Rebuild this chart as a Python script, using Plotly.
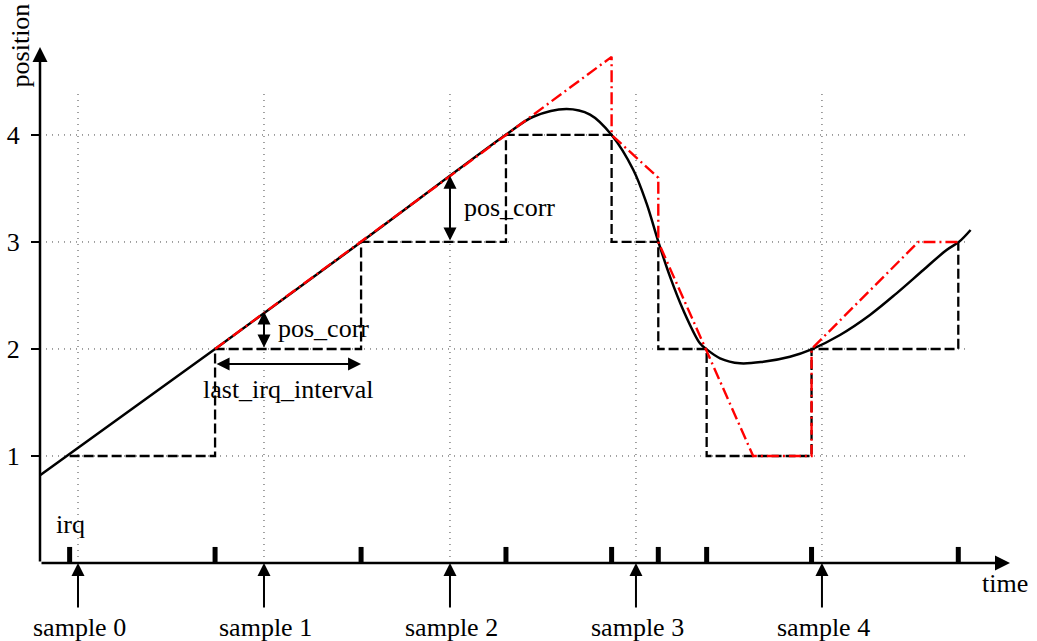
import plotly.graph_objects as go

# ---------------- data ----------------
sample_times = [0, 1, 2, 3, 4]
sample_labels = ["sample 0", "sample 1", "sample 2", "sample 3", "sample 4"]

irq_times = [-0.045, 0.737, 1.522, 2.301, 2.869, 3.120, 3.380, 3.944, 4.733]
irq_positions = [1, 2, 3, 4, 3, 2, 1, 2, 3]

true_t = [-0.204, 0.737, 1.522, 2.323, 2.448, 2.627, 2.753, 2.869, 2.986,
          3.057, 3.120, 3.183, 3.254, 3.344, 3.380, 3.452, 3.559, 3.685, 3.828,
          3.944, 4.097, 4.258, 4.401, 4.545, 4.670, 4.738, 4.799]
true_pos = [0.82, 2.0, 3.0, 4.03, 4.17, 4.243, 4.19, 4.0, 3.673,
            3.36, 3.003, 2.676, 2.364, 2.053, 1.997, 1.913, 1.866, 1.881, 1.928,
            1.997, 2.131, 2.318, 2.52, 2.738, 2.925, 3.003, 3.112]

extrap_t = [0.737, 1.522, 2.301, 2.869, 2.869, 3.120, 3.120, 3.63, 3.944, 3.944, 4.518, 4.733]
extrap_pos = [2.0, 3.0, 4.0, 4.73, 4.0, 3.60, 3.0, 1.0, 1.0, 2.0, 3.0, 3.0]

y_ticks = [1, 2, 3, 4]
pos_corr_at = [1, 2]            # sample indices where pos_corr is shown
pos_corr_values = [2.35, 3.62]  # curve value at those samples
pos_corr_base = [2, 3]

# ---------------- figure ----------------
FONT = "Liberation Serif"
FS = 26
x_min, x_max = -0.2043, 5.011
y_min, y_max = 0.0, 4.822
grid_x_end = 4.785
grid_y_top = 4.41


def px(t):   # data x -> paper x
    return (t - x_min) / (x_max - x_min)


def py(v):   # data y -> paper y
    return (v - y_min) / (y_max - y_min)


fig = go.Figure()

# dotted grid
gx, gy = [], []
for v in y_ticks:
    gx += [x_min, grid_x_end, None]
    gy += [v, v, None]
for t in sample_times:
    gx += [t, t, None]
    gy += [0, grid_y_top, None]
fig.add_trace(go.Scatter(x=gx, y=gy, mode="lines",
                         line=dict(color="#444444", width=1, dash="1px,5px"),
                         hoverinfo="skip", showlegend=False))

# irq ticks
ix, iy = [], []
for t in irq_times:
    ix += [t, t, None]
    iy += [0, 0.15, None]
fig.add_trace(go.Scatter(x=ix, y=iy, mode="lines",
                         line=dict(color="black", width=5),
                         hoverinfo="skip", showlegend=False))

# stepped sampled position
fig.add_trace(go.Scatter(x=irq_times, y=irq_positions, mode="lines",
                         line=dict(color="black", width=2.3, dash="10px,4px", shape="hv"),
                         hoverinfo="skip", showlegend=False))

# true position curve
fig.add_trace(go.Scatter(x=true_t, y=true_pos, mode="lines",
                         line=dict(color="black", width=2.5, shape="spline", smoothing=1.0),
                         hoverinfo="skip", showlegend=False))

# extrapolated position
fig.add_trace(go.Scatter(x=extrap_t, y=extrap_pos, mode="lines",
                         line=dict(color="#ff0000", width=2.4, dash="12px,4px,2px,4px"),
                         hoverinfo="skip", showlegend=False))

annotations = []
txt = dict(family=FONT, size=FS, color="black")
mid = dict(xanchor="center", yanchor="middle")

# axes with arrows
annotations.append(dict(x=x_min, y=y_max, ax=x_min, ay=0, xref="x", yref="y",
                        axref="x", ayref="y", showarrow=True, arrowhead=2,
                        arrowsize=1.2, arrowwidth=2.5, arrowcolor="black", text=""))
annotations.append(dict(x=x_max, y=0, ax=x_min, ay=0, xref="x", yref="y",
                        axref="x", ayref="y", showarrow=True, arrowhead=2,
                        arrowsize=1.2, arrowwidth=2.5, arrowcolor="black", text=""))

# sample arrows and labels (below the axis -> paper y coordinates)
for t, lab in zip(sample_times, sample_labels):
    annotations.append(dict(x=t, y=py(0), ax=0, ay=46,
                            xref="x", yref="paper", axref="pixel", ayref="pixel",
                            showarrow=True, arrowhead=2,
                            arrowsize=1.3, arrowwidth=2, arrowcolor="black", text=""))
    annotations.append(dict(x=t + 0.01, y=py(-0.607), xref="x", yref="paper",
                            text=lab, showarrow=False, font=txt, **mid))

# pos_corr arrows
for idx, top, base in zip(pos_corr_at, pos_corr_values, pos_corr_base):
    t = sample_times[idx]
    annotations.append(dict(x=t, y=top, ax=t, ay=base, xref="x", yref="y",
                            axref="x", ayref="y", showarrow=True, arrowhead=2,
                            startarrowhead=2, arrowside="end+start",
                            arrowsize=1.3, startarrowsize=1.3,
                            arrowwidth=2, arrowcolor="black", text=""))
    annotations.append(dict(x=t + 0.062, y=(top + base) / 2 + 0.015, xref="x", yref="y",
                            text="pos_corr", xanchor="left", yanchor="middle",
                            showarrow=False, font=txt))

# last_irq_interval arrow
annotations.append(dict(x=irq_times[2], y=1.86, ax=irq_times[1], ay=1.86,
                        xref="x", yref="y", axref="x", ayref="y", showarrow=True,
                        arrowhead=2, startarrowhead=2, arrowside="end+start",
                        arrowsize=1.3, startarrowsize=1.3,
                        arrowwidth=2, arrowcolor="black", text=""))
annotations.append(dict(x=(irq_times[1] + irq_times[2]) / 2, y=1.62, xref="x", yref="y",
                        text="last_irq_interval", showarrow=False, font=txt, **mid))

# irq label
annotations.append(dict(x=irq_times[0] + 0.005, y=0.36, xref="x", yref="y", text="irq",
                        showarrow=False, font=txt, **mid))

# axis titles
annotations.append(dict(x=px(4.984), y=py(-0.19), xref="paper", yref="paper", text="time",
                        showarrow=False, font=txt, **mid))
annotations.append(dict(x=px(-0.31), y=py(4.84), xref="paper", yref="paper", text="position",
                        textangle=-90, showarrow=False, font=txt, **mid))

fig.update_layout(
    width=1037, height=641,
    margin=dict(l=40, r=27, t=47, b=78, autoexpand=False),
    plot_bgcolor="white", paper_bgcolor="white",
    showlegend=False,
    annotations=annotations,
    xaxis=dict(range=[x_min, x_max], showgrid=False, zeroline=False,
               showticklabels=False, ticks="", showline=False, fixedrange=True,
               automargin=False),
    yaxis=dict(range=[y_min, y_max], showgrid=False, zeroline=False,
               tickvals=y_ticks, ticktext=[str(v) for v in y_ticks],
               ticks="outside", ticklen=8, tickwidth=2, tickcolor="black",
               ticklabelstandoff=6, automargin=False,
               tickfont=txt,
               showline=False, fixedrange=True),
)

fig.write_html(
    "out.html",
    config={"displayModeBar": False},
    post_script="document.body.style.margin='0';document.body.style.overflow='hidden';",
)
